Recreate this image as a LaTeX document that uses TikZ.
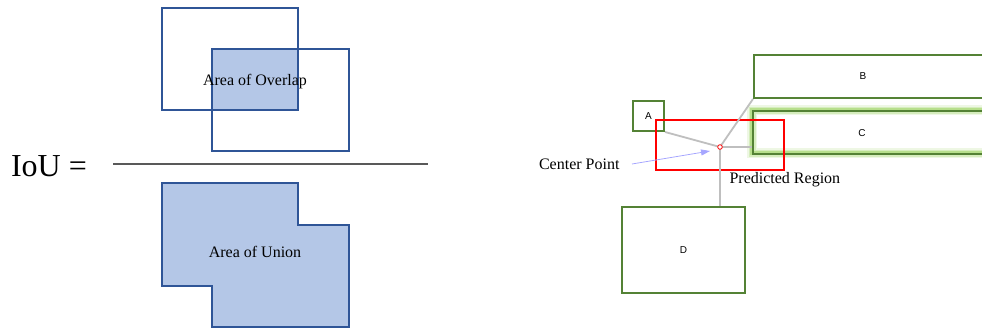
\documentclass[tikz,border=0pt]{standalone}
\usepackage{fontspec}
\setmainfont{Liberation Serif}
\setsansfont{Liberation Sans}
\usetikzlibrary{arrows.meta}

\definecolor{boxblue}{HTML}{2F5597}
\definecolor{fillblue}{HTML}{B4C7E7}
\definecolor{boxgreen}{HTML}{548235}
\definecolor{glowgreen}{HTML}{92D050}
\definecolor{linkgray}{HTML}{BFBFBF}
\definecolor{ptrblue}{HTML}{A6A6FF}

\begin{document}
\begin{tikzpicture}[x=1pt, y=-1pt,
  blue/.style = {draw=boxblue, line width=1.6pt},
  gbox/.style = {draw=boxgreen, line width=2pt, anchor=north west, inner sep=0pt},
  link/.style = {draw=linkgray, line width=1.8pt},
  serif16/.style = {font=\fontsize{16}{19}\selectfont},
  letter/.style = {font=\sffamily\fontsize{10}{12}\selectfont}]
\clip (0,0) rectangle (982,329);
\fill[white] (0,0) rectangle (982,329);

%% left half: the fraction
\node[font=\fontsize{32}{38}\selectfont] (iou) at (49,166) {IoU =};
\draw[gray!70!black, line width=2.8pt] (113,164) -- (428,164);

\fill[fillblue] (212,49) rectangle (298,110);
\draw[blue] (162,8) rectangle (298,110);
\draw[blue] (212,49) rectangle (349,151);
\node[serif16] (overlap) at (255,82) {Area of Overlap};

\draw[blue, fill=fillblue] (162,183) -- (298,183) -- (298,225) -- (349,225)
  -- (349,327) -- (212,327) -- (212,286) -- (162,286) -- cycle;
\node[serif16] (union) at (255,252) {Area of Union};

%% right half: the regions
% glow round C
\foreach \w/\o in {10/0.15, 7/0.25, 4/0.45}
  \draw[glowgreen, line width=\w pt, opacity=\o] (752,110) rectangle (1000,153);

\node[gbox, minimum width=31pt, minimum height=30pt, letter] (A) at (632,100) {A};
\node[gbox, minimum width=240pt, minimum height=43pt] (B) at (753,54) {};
\node[letter] at (863,76) {B};
\node[gbox, minimum width=240pt, minimum height=43pt] (C) at (752,110) {};
\node[letter] at (862,133) {C};
\node[gbox, minimum width=123pt, minimum height=86pt, letter] (D) at (621,206) {D};

\draw[red, line width=1.6pt] (656,120) rectangle (784,170);
\coordinate (ctr) at (720,147);

\draw[link] (ctr) -- (A.south east);
\draw[link] (ctr) -- (B.south west);
\draw[link] (ctr) -- (ctr -| C.west);
\draw[link] (ctr) -- (ctr |- D.north);
\draw[red, fill=white, line width=0.8pt] (ctr) circle (2.3pt);

\node[serif16, anchor=east] (cp) at (623,164) {Center Point};
\coordinate (ptr) at (710,151);
\draw[ptrblue, line width=0.8pt, -{Triangle[length=9pt, width=6pt]}] (cp.east) ++(9,0) -- (ptr);
\node[serif16, anchor=west] (pred) at (726,180) {Predicted Region};
\end{tikzpicture}
\end{document}
